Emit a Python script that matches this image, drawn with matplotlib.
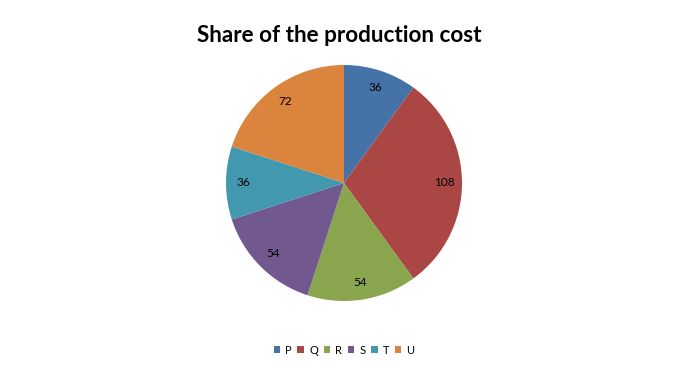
import matplotlib
matplotlib.use("Agg")
import matplotlib.pyplot as plt
from matplotlib.patches import Patch

categories = ["P", "Q", "R", "S", "T", "U"]
values = [36, 108, 54, 54, 36, 72]
colors = ["#4572A7", "#AA4643", "#89A54E", "#71588F", "#4198AF", "#DB843D"]
title = "Share of the production cost"

plt.rcParams['font.family'] = ['Lato', 'DejaVu Sans']

fig = plt.figure(figsize=(6.81, 3.68), dpi=100)
ax = fig.add_axes([226/681, 67/368, 236/681, 236/368])
wedges, texts, autotexts = ax.pie(
    values, colors=colors, startangle=90, counterclock=False,
    autopct=lambda p: f"{round(p*sum(values)/100):d}", pctdistance=0.85,
    wedgeprops=dict(linewidth=0), textprops=dict(fontsize=8.5, color="black"))
ax.set_xlim(-1, 1)
ax.set_ylim(-1, 1)
ax.set_aspect('auto')
ax.axis('off')

fig.text(339/681, 1 - 35/368, title, ha='center', va='center', fontsize=16.2, fontweight='bold')

handles = [Patch(facecolor=c, edgecolor='none') for c in colors]
fig.legend(handles, categories, loc='center', bbox_to_anchor=(344/681, 1 - 350/368), ncol=6,
           frameon=False, fontsize=8, handlelength=0.6, handleheight=0.6,
           handletextpad=0.45, columnspacing=0.5)

fig.savefig("out.png", dpi=100)
